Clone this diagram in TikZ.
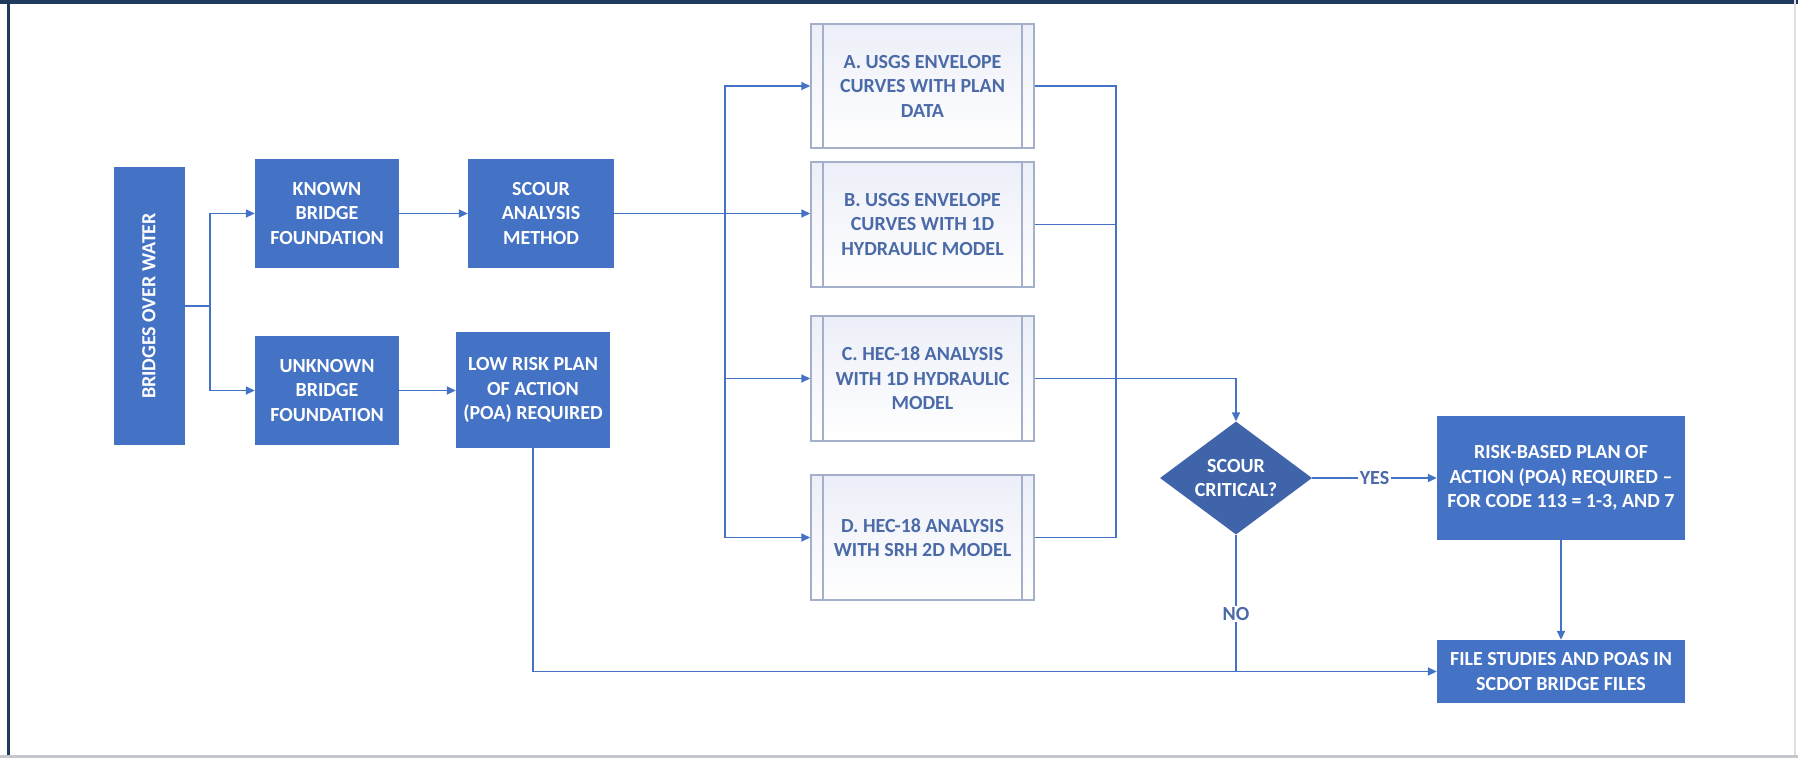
\documentclass[tikz,border=0pt]{standalone}
\usepackage{fontspec}
\setmainfont{Carlito}
\usetikzlibrary{shapes.geometric,arrows.meta}
\definecolor{boxblue}{HTML}{4472C4}
\definecolor{diablue}{HTML}{3F64AA}
\definecolor{linkblue}{HTML}{4472C4}
\definecolor{procborder}{HTML}{A4B0C9}
\definecolor{proctext}{HTML}{4A6AA8}
\definecolor{proctop}{HTML}{ECEFF8}
\definecolor{framenavy}{HTML}{1F3A5C}
\definecolor{framegray}{HTML}{C4C8CD}
\begin{document}
\begin{tikzpicture}[x=1pt,y=-1pt,
  every node/.style={font=\fontsize{20}{24.5}\selectfont\bfseries, inner sep=0pt, align=center},
  bluebox/.style={rectangle, fill=boxblue, text=white},
  procbox/.style={rectangle, draw=procborder, line width=1.5pt, top color=proctop, bottom color=white,
    text=proctext, minimum width=223pt, minimum height=125pt,
    path picture={
      \draw[procborder, line width=1.5pt] ([xshift=12pt]path picture bounding box.north west) -- ([xshift=12pt]path picture bounding box.south west);
      \draw[procborder, line width=1.5pt] ([xshift=-12pt]path picture bounding box.north east) -- ([xshift=-12pt]path picture bounding box.south east);
    }},
  ln/.style={draw=linkblue, line width=1.8pt},
  arr/.style={ln, -{Triangle[length=9pt,width=8pt]}},
  lbl/.style={fill=white, text=proctext, inner xsep=2pt, inner ysep=1pt}
]
\useasboundingbox (0,0) rectangle (1798,758);
% screenshot frame
\fill[framenavy] (0,0) rectangle (1798,4);
\fill[framenavy] (7,0) rectangle (10,758);
\fill[framegray] (0,755) rectangle (1798,758);
\fill[black!12] (1794,0) rectangle (1796,755);

% nodes
\node[bluebox, rotate=90, minimum width=278pt, minimum height=71pt] (bow) at (149,306) {BRIDGES OVER WATER};
\node[bluebox, minimum width=144pt, minimum height=109pt] (known) at (327,213.5) {KNOWN\\BRIDGE\\FOUNDATION};
\node[bluebox, minimum width=146pt, minimum height=109pt] (scour) at (541,213.5) {SCOUR\\ANALYSIS\\METHOD};
\node[bluebox, minimum width=144pt, minimum height=109pt] (unknown) at (327,390.5) {UNKNOWN\\BRIDGE\\FOUNDATION};
\node[bluebox, minimum width=154pt, minimum height=116pt] (lowrisk) at (533,390) {LOW RISK PLAN\\OF ACTION\\(POA) REQUIRED};

\node[procbox, minimum height=124pt] (A) at (922.5,86) {A. USGS ENVELOPE\\CURVES WITH PLAN\\DATA};
\node[procbox] (B) at (922.5,224.5) {B. USGS ENVELOPE\\CURVES WITH 1D\\HYDRAULIC MODEL};
\node[procbox] (C) at (922.5,378.5) {C. HEC-18 ANALYSIS\\WITH 1D HYDRAULIC\\MODEL};
\node[procbox] (D) at (922.5,537.5) {D. HEC-18 ANALYSIS\\WITH SRH 2D MODEL};

\node[diamond, fill=diablue, text=white, aspect=1.345, minimum width=152pt, minimum height=113pt] (dia) at (1236,478) {SCOUR\\CRITICAL?};
\node[bluebox, minimum width=248pt, minimum height=124pt] (risk) at (1561,478) {RISK-BASED PLAN OF\\ACTION (POA) REQUIRED --\\FOR CODE 113 = 1-3, AND 7};
\node[bluebox, minimum width=248pt, minimum height=63pt] (file) at (1561,671.5) {FILE STUDIES AND POAS IN\\SCDOT BRIDGE FILES};

% junctions
\coordinate (j1) at (210,306);
\coordinate (j2) at (725,213.5);
\coordinate (j3) at (1116,378.5);
\coordinate (j4) at (dia.south |- file.west);

% connectors
\draw[ln] (bow.south) -- (j1);
\draw[arr] (j1) |- (known.west);
\draw[arr] (j1) |- (unknown.west);
\draw[arr] (known.east) -- (scour.west);
\draw[arr] (unknown.east) -- (unknown.east -| lowrisk.west);

\draw[ln] (scour.east) -- (j2);
\draw[arr] (j2) |- (A.west);
\draw[arr] (j2) -- (j2 -| B.west);
\draw[arr] (j2) |- (C.west);
\draw[arr] (j2) |- (D.west);

\draw[ln] (A.east) -| (j3);
\draw[ln] (B.east) -- (B.east -| j3);
\draw[ln] (D.east) -| (j3);
\draw[arr] (C.east) -| (dia.north);

\draw[arr] (dia.east) -- node[lbl]{YES} (risk.west);
\draw[arr] (risk.south) -- (file.north);
\draw[ln] (dia.south) -- node[lbl, pos=0.58]{NO} (j4);
\draw[arr] (lowrisk.south) |- (file.west);
\end{tikzpicture}
\end{document}
